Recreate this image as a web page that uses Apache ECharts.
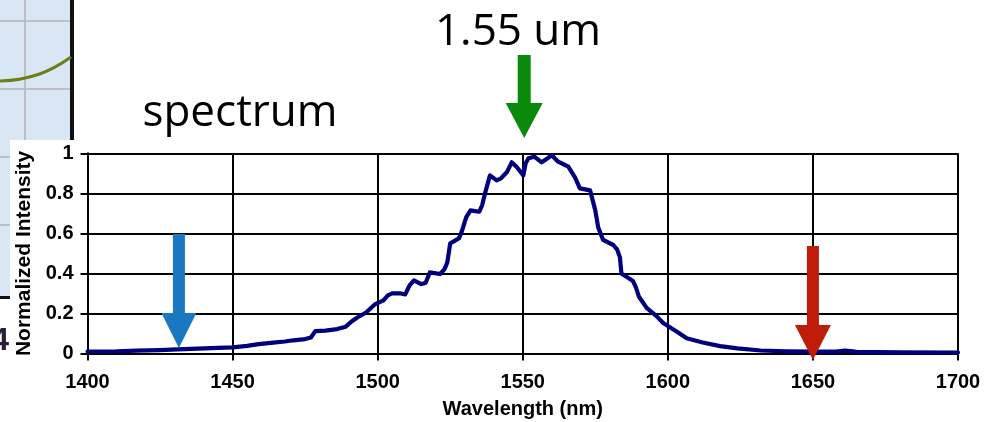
<!DOCTYPE html>
<html>
<head>
<meta charset="utf-8">
<script src="https://cdn.jsdelivr.net/npm/echarts/dist/echarts.min.js"></script>
<style>
  html, body { margin: 0; padding: 0; background: #fff; }
  #chart { width: 984px; height: 422px; }
</style>
</head>
<body>
<div id="chart"></div>
<script>
// Measured emission spectrum (wavelength in nm, normalized intensity)
const wavelengths = [
  1400, 1410, 1417, 1425, 1431, 1438, 1445, 1450, 1455, 1459,
  1464, 1468, 1471, 1475, 1477, 1478.5, 1482, 1486, 1489, 1491,
  1493, 1496, 1499, 1502, 1503.5, 1505, 1508, 1509.5, 1511, 1512.5,
  1515, 1516.5, 1518, 1521.5, 1523, 1524, 1525, 1528, 1529, 1530.5,
  1532, 1535, 1536, 1537, 1538.7, 1541, 1542.5, 1544.5, 1546.2, 1548,
  1550.2, 1551, 1552, 1554, 1556.5, 1558.2, 1560, 1562.2, 1565.7, 1568,
  1569.7, 1573.2, 1575, 1576, 1577.7, 1581.2, 1582.5, 1583.5, 1584, 1588,
  1589, 1590, 1592.7, 1596, 1598.4, 1603, 1606.5, 1612, 1618, 1624,
  1632, 1641, 1650, 1658, 1661, 1663, 1665, 1680, 1700
];
const intensity = [
  0.010, 0.011, 0.014, 0.017, 0.021, 0.024, 0.028, 0.031, 0.038, 0.047,
  0.054, 0.060, 0.066, 0.072, 0.080, 0.112, 0.114, 0.122, 0.134, 0.160,
  0.180, 0.205, 0.245, 0.265, 0.290, 0.300, 0.300, 0.295, 0.340, 0.365,
  0.347, 0.352, 0.405, 0.397, 0.420, 0.455, 0.550, 0.575, 0.610, 0.680,
  0.715, 0.708, 0.740, 0.800, 0.890, 0.865, 0.875, 0.905, 0.955, 0.930,
  0.890, 0.950, 0.975, 0.983, 0.955, 0.972, 0.990, 0.958, 0.933, 0.880,
  0.825, 0.815, 0.715, 0.630, 0.567, 0.542, 0.520, 0.480, 0.400, 0.362,
  0.330, 0.285, 0.228, 0.188, 0.152, 0.110, 0.076, 0.055, 0.037, 0.026,
  0.015, 0.011, 0.009, 0.009, 0.014, 0.012, 0.008, 0.006, 0.005
];

// Axis ranges and steps
const xRange = [1400, 1700];
const xStep = 50;
const yRange = [0, 1];
const yStep = 0.2;

// Wavelengths marked with arrows
const markBlue = 1431.5;
const markGreen = 1550.5;
const markRed = 1650;

const labelFont = '"Liberation Sans", Arial, sans-serif';

const chart = echarts.init(document.getElementById('chart'), null, { renderer: 'canvas' });

const option = {
  backgroundColor: '#ffffff',
  animation: false,
  grid: { left: 87.5, right: 26, top: 153.3, bottom: 68.5, containLabel: false },
  xAxis: {
    type: 'value',
    min: xRange[0], max: xRange[1], interval: xStep,
    name: 'Wavelength (nm)',
    nameLocation: 'middle',
    nameGap: 46,
    nameTextStyle: { fontFamily: labelFont, fontWeight: 'bold', fontSize: 20, color: '#000' },
    axisLine: { show: true, lineStyle: { color: '#000', width: 2 } },
    axisTick: { show: true, inside: false, length: 7, lineStyle: { color: '#000', width: 2 } },
    axisLabel: {
      margin: 19, fontFamily: labelFont, fontWeight: 'bold', fontSize: 20, color: '#000',
      formatter: v => String(v)
    },
    splitLine: { show: true, lineStyle: { color: '#000', width: 2 } }
  },
  yAxis: {
    type: 'value',
    min: yRange[0], max: yRange[1], interval: yStep,
    name: 'Normalized Intensity',
    nameLocation: 'middle',
    nameGap: 53,
    nameTextStyle: { fontFamily: labelFont, fontWeight: 'bold', fontSize: 21, color: '#000' },
    axisLine: { show: true, lineStyle: { color: '#000', width: 2 } },
    axisTick: { show: true, inside: false, length: 7, lineStyle: { color: '#000', width: 2 } },
    axisLabel: {
      margin: 14, fontFamily: labelFont, fontWeight: 'bold', fontSize: 20, color: '#000',
      formatter: v => String(Math.round(v * 10) / 10)
    },
    splitLine: { show: true, lineStyle: { color: '#000', width: 2 } }
  },
  series: [{
    type: 'line',
    data: wavelengths.map((w, i) => [w, intensity[i]]),
    showSymbol: false,
    smooth: false,
    lineStyle: { color: '#00007f', width: 4.2, join: 'round', cap: 'round' },
    z: 3
  }]
};

chart.setOption(option);

// Downward arrow polygon centred on cx
function arrow(cx, top, headStart, tip, shaftW, headW, color) {
  return {
    type: 'polygon',
    z: 20,
    shape: {
      points: [
        [cx - shaftW / 2, top], [cx + shaftW / 2, top],
        [cx + shaftW / 2, headStart], [cx + headW / 2, headStart],
        [cx, tip],
        [cx - headW / 2, headStart], [cx - shaftW / 2, headStart]
      ]
    },
    style: { fill: color }
  };
}

const px = v => chart.convertToPixel({ xAxisIndex: 0 }, v);

const graphics = [
  // inset fragment at the top-left corner
  { type: 'rect', z: 1, shape: { x: 0, y: 0, width: 70, height: 140 }, style: { fill: '#d9e7f5' } },
  { type: 'rect', z: 1, shape: { x: 0, y: 140, width: 10, height: 157 }, style: { fill: '#d9e7f5' } },
  { type: 'line', z: 2, shape: { x1: 25, y1: 0, x2: 25, y2: 140 }, style: { stroke: '#bdbdc8', lineWidth: 2 } },
  { type: 'line', z: 2, shape: { x1: 0, y1: 21, x2: 70, y2: 21 }, style: { stroke: '#bdbdc8', lineWidth: 2 } },
  { type: 'line', z: 2, shape: { x1: 0, y1: 89, x2: 70, y2: 89 }, style: { stroke: '#bdbdc8', lineWidth: 2 } },
  { type: 'line', z: 2, shape: { x1: 0, y1: 157, x2: 10, y2: 157 }, style: { stroke: '#bdbdc8', lineWidth: 2 } },
  { type: 'line', z: 2, shape: { x1: 0, y1: 225, x2: 10, y2: 225 }, style: { stroke: '#bdbdc8', lineWidth: 2 } },
  { type: 'rect', z: 3, shape: { x: 70, y: 0, width: 4, height: 140 }, style: { fill: '#111' } },
  { type: 'rect', z: 3, shape: { x: 0, y: 296, width: 10, height: 3 }, style: { fill: '#111' } },
  {
    type: 'bezierCurve', z: 3,
    shape: { x1: 0, y1: 81, cpx1: 30, cpy1: 80, cpx2: 50, cpy2: 72, x2: 71, y2: 57 },
    style: { stroke: '#6e7d14', lineWidth: 3, fill: null }
  },
  {
    type: 'text', z: 3, x: 9, y: 341,
    style: { text: '4', font: 'bold 32px "Liberation Sans", Arial, sans-serif', fill: '#2b1d3d', textAlign: 'right', textVerticalAlign: 'middle' }
  },
  // annotations
  {
    type: 'text', z: 10, x: 240, y: 113,
    style: { text: 'spectrum', font: '44px "Open Sans", sans-serif', fill: '#000', textAlign: 'center', textVerticalAlign: 'middle' }
  },
  {
    type: 'text', z: 10, x: 518, y: 32,
    style: { text: '1.55 um', font: '44px "Open Sans", sans-serif', fill: '#000', textAlign: 'center', textVerticalAlign: 'middle' }
  },
  arrow(px(markGreen), 55, 103, 138, 13, 37, '#0a8a0a'),
  arrow(px(markBlue), 234, 313, 348, 12, 35, '#1a78c2'),
  arrow(px(markRed), 246, 325, 360, 12, 36, '#bf1c0a')
];

chart.setOption({ graphic: graphics });
</script>
</body>
</html>
